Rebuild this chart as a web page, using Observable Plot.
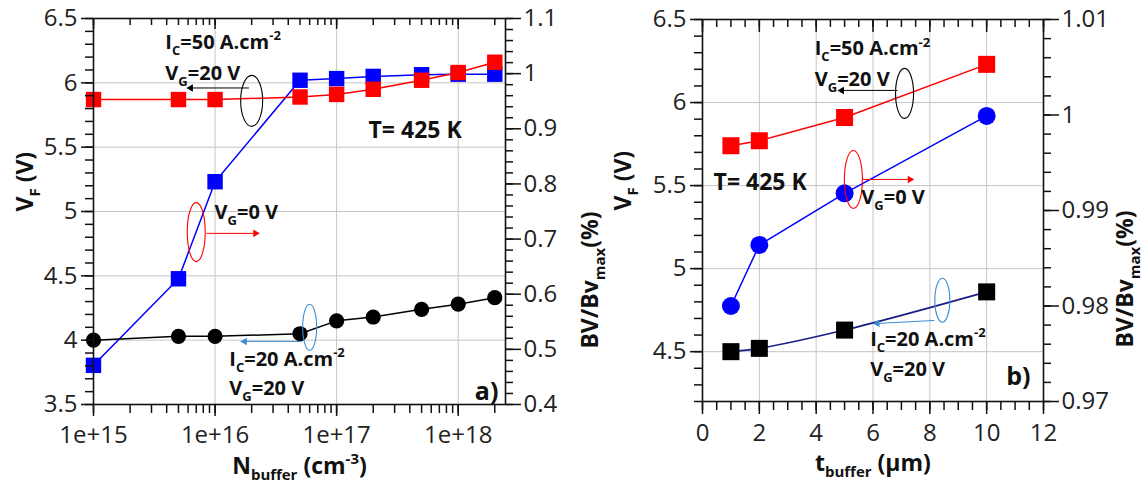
<!DOCTYPE html>
<html>
<head>
<meta charset="utf-8">
<script src="https://cdn.jsdelivr.net/npm/d3@7"></script>
<script src="https://cdn.jsdelivr.net/npm/@observablehq/plot@0.6"></script>
<style>
  body { margin: 0; background: #fff; }
  #wrap { display: flex; width: 1148px; height: 486px; overflow: hidden; }
  #wrap svg { display: block; }
</style>
</head>
<body>
<div id="wrap"></div>
<script>
// ---- Panel a: forward voltage / breakdown ratio vs buffer doping ----
const nBuffer   = [1e15, 5e15, 1e16, 5e16, 1e17, 2e17, 5e17, 1e18, 2e18];
const vfIc50A   = [5.87, 5.87, 5.87, 5.89, 5.91, 5.95, 6.02, 6.08, 6.16];
const vfIc20A   = [4.00, 4.03, 4.03, 4.05, 4.15, 4.18, 4.24, 4.28, 4.33];
const bvRatioA  = [0.471, 0.628, 0.804, 0.988, 0.991, 0.995, 0.998, 0.999, 0.999];

// ---- Panel b: forward voltage / breakdown ratio vs buffer thickness ----
const tBuffer   = [1, 2, 5, 10];
const vfIc50B   = [5.74, 5.77, 5.91, 6.23];
const vfIc20B   = [4.50, 4.52, 4.63, 4.86];
const bvRatioB  = [0.980, 0.9864, 0.9918, 0.9999];

// ---- tick values and labels ----
const nTicks        = [1e15, 1e16, 1e17, 1e18];
const nTickLabels   = ["1e+15", "1e+16", "1e+17", "1e+18"];
const vfTicksA      = [3.5, 4, 4.5, 5, 5.5, 6, 6.5];
const vfTickLabelsA = ["3.5", "4", "4.5", "5", "5.5", "6", "6.5"];
const bvTicksA      = [0.4, 0.5, 0.6, 0.7, 0.8, 0.9, 1, 1.1];
const bvTickLabelsA = ["0.4", "0.5", "0.6", "0.7", "0.8", "0.9", "1", "1.1"];
const tTicks        = [0, 2, 4, 6, 8, 10, 12];
const tTickLabels   = ["0", "2", "4", "6", "8", "10", "12"];
const vfTicksB      = [4.5, 5, 5.5, 6, 6.5];
const vfTickLabelsB = ["4.5", "5", "5.5", "6", "6.5"];
const bvTicksB      = [0.97, 0.98, 0.99, 1, 1.01];
const bvTickLabelsB = ["0.97", "0.98", "0.99", "1", "1.01"];

const FONT = '"Open Sans", "Noto Sans", sans-serif';
const RED = "#ff0000", BLUE = "#0000ff", LBLUE = "#3a8ed4", NAVY = "#1c1c86";
const GRID = "#c6c6c6", AXIS = "#111", TXT = "#222";
const NOTE = 20, TITLE = 23;

// The right-hand axis (BV/BVmax) shares the plot area with the left one (VF)
const toVfA = v => 3.5 + (v - 0.4) * 3 / 0.7;
const toVfB = v => 4.2 + (v - 0.97) * 2.3 / 0.04;

const rowsA = nBuffer.map((n, i) => ({n, ic50: vfIc50A[i], ic20: vfIc20A[i], bv: bvRatioA[i]}));
const rowsB = tBuffer.map((t, i) => ({t, ic50: vfIc50B[i], ic20: vfIc20B[i], bv: bvRatioB[i]}));

const lookup = (ticks, labels) => d => labels[d3.minIndex(ticks, v => Math.abs(v - d))];
const blank = () => "";

// Ellipse outline used to group a pair of curves
const ellipse = (rx, ry) => ({
  draw(ctx) {
    const k = 0.5523;
    ctx.moveTo(rx, 0);
    ctx.bezierCurveTo(rx, k * ry, k * rx, ry, 0, ry);
    ctx.bezierCurveTo(-k * rx, ry, -rx, k * ry, -rx, 0);
    ctx.bezierCurveTo(-rx, -k * ry, -k * rx, -ry, 0, -ry);
    ctx.bezierCurveTo(k * rx, -ry, rx, -k * ry, rx, 0);
    ctx.closePath();
  }
});

function callout(c) {
  return [
    Plot.dot([c], {x: "cx", y: "cy", symbol: ellipse(c.rx, c.ry), r: 1, stroke: c.color, strokeWidth: 1.1, fill: "none"}),
    Plot.link([c], {x1: "x1", y1: "y1", x2: "x2", y2: "y2", stroke: c.color, strokeWidth: 1}),
    Plot.dot([c], {x: "x2", y: "y2", symbol: "triangle", rotate: c.rot, r: 2.8, fill: c.color, stroke: "none"})
  ];
}

const note = (x, y, text, size, anchor = "start") =>
  Plot.text([{x, y, text}], {x: "x", y: "y", text: "text", fontSize: size, fontWeight: "bold", textAnchor: anchor, fill: "#111"});

const axisStyle = {label: null, stroke: AXIS, strokeWidth: 1.5, fill: TXT, fontSize: 24};

// ---------------- Panel a ----------------
const logMinor = d3.range(15, 19).flatMap(e => d3.range(1, 10).map(m => m * 10 ** e)).filter(v => v <= 2.45e18);
const plotA = Plot.plot({
  width: 615, height: 486,
  marginLeft: 93, marginRight: 110, marginTop: 18, marginBottom: 82,
  x: {type: "log", domain: [1e15, 2.45e18], axis: null},
  y: {domain: [3.5, 6.5], axis: null},
  style: {fontFamily: FONT, fontSize: "24px", background: "#fff", overflow: "visible"},
  marks: [
    Plot.gridX(nTicks.slice(1), {stroke: GRID, strokeOpacity: 1}),
    Plot.gridY(vfTicksA.slice(1, -1), {stroke: GRID, strokeOpacity: 1}),

    Plot.line(rowsA, {x: "n", y: d => toVfA(d.bv), stroke: BLUE, strokeWidth: 1.5}),
    Plot.dot(rowsA, {x: "n", y: d => toVfA(d.bv), symbol: "square", r: 8.7, fill: BLUE}),
    Plot.line(rowsA, {x: "n", y: "ic50", stroke: RED, strokeWidth: 1.5}),
    Plot.dot(rowsA, {x: "n", y: "ic50", symbol: "square", r: 8.7, fill: RED}),
    Plot.line(rowsA, {x: "n", y: "ic20", stroke: "#000", strokeWidth: 1.5}),
    Plot.dot(rowsA, {x: "n", y: "ic20", r: 7.6, fill: "#000"}),

    callout({cx: 2.0e16, cy: 5.86, rx: 11, ry: 25.5, color: "#000", x1: 1.9e16, y1: 5.96, x2: 6.3e15, y2: 5.96, rot: -90}),
    callout({cx: 7.0e15, cy: 4.84, rx: 9, ry: 29.5, color: RED, x1: 8.5e15, y1: 4.83, x2: 2.15e16, y2: 4.83, rot: 90}),
    callout({cx: 6.0e16, cy: 4.10, rx: 7, ry: 23, color: LBLUE, x1: 5.2e16, y1: 3.99, x2: 1.75e16, y2: 3.99, rot: -90}),
    note(3.9e15, 6.315, "I_{C}=50 A.cm^{-2}", NOTE),
    note(3.9e15, 6.075, "V_{G}=20 V", NOTE),
    note(1.83e17, 5.63, "T= 425 K", 23),
    note(9.9e15, 4.99, "V_{G}=0 V", NOTE),
    note(1.31e16, 3.85, "I_{C}=20 A.cm^{-2}", NOTE),
    note(1.31e16, 3.62, "V_{G}=20 V", NOTE),
    note(2.14e18, 3.60, "a)", 25, "end"),

    Plot.frame({stroke: AXIS, strokeWidth: 1.6}),
    Plot.axisY(d3.range(35, 66).map(v => v / 10), {anchor: "left", tickSize: 8, tickFormat: blank, ...axisStyle}),
    Plot.axisY(vfTicksA, {anchor: "left", tickSize: 12, tickPadding: 4, tickFormat: lookup(vfTicksA, vfTickLabelsA), ...axisStyle}),
    Plot.axisY(d3.range(20, 56).map(v => toVfA(v / 50)), {anchor: "right", tickSize: 7, tickFormat: blank, ...axisStyle}),
    Plot.axisY(bvTicksA.map(toVfA), {anchor: "right", tickSize: 15, tickPadding: 3, tickFormat: lookup(bvTicksA.map(toVfA), bvTickLabelsA), ...axisStyle}),
    Plot.axisX(logMinor, {anchor: "bottom", tickSize: 9, tickFormat: blank, ...axisStyle}),
    Plot.axisX(nTicks, {anchor: "bottom", tickSize: 12, tickPadding: 9, tickFormat: lookup(nTicks, nTickLabels), ...axisStyle}),
    Plot.axisX(logMinor, {anchor: "top", tickSize: 6, dy: 6, tickFormat: blank, ...axisStyle}),
    Plot.axisX(nTicks, {anchor: "top", tickSize: 10, dy: 10, tickFormat: blank, ...axisStyle}),

    Plot.text(["V_{F} (V)"], {frameAnchor: "left", dx: -68, rotate: -90, fontSize: TITLE, fontWeight: "bold", fill: "#111"}),
    Plot.text(["BV/Bv_{max}(%)"], {frameAnchor: "right", dx: 85, rotate: -90, fontSize: TITLE, fontWeight: "bold", fill: "#111"}),
    Plot.text(["N_{buffer} (cm^{-3})"], {frameAnchor: "bottom", dy: 69, fontSize: TITLE, fontWeight: "bold", fill: "#111"})
  ]
});

// ---------------- Panel b ----------------
const plotB = Plot.plot({
  width: 533, height: 486,
  marginLeft: 87, marginRight: 105, marginTop: 19, marginBottom: 85,
  x: {domain: [0, 12], axis: null},
  y: {domain: [4.2, 6.5], axis: null},
  style: {fontFamily: FONT, fontSize: "24px", background: "#fff", overflow: "visible"},
  marks: [
    Plot.gridX(tTicks.slice(1, -1), {stroke: GRID, strokeOpacity: 1}),
    Plot.gridY(vfTicksB.slice(0, -1), {stroke: GRID, strokeOpacity: 1}),

    Plot.line(rowsB, {x: "t", y: "ic50", stroke: RED, strokeWidth: 1.5}),
    Plot.dot(rowsB, {x: "t", y: "ic50", symbol: "square", r: 9.6, fill: RED}),
    Plot.line(rowsB, {x: "t", y: d => toVfB(d.bv), stroke: BLUE, strokeWidth: 1.5}),
    Plot.dot(rowsB, {x: "t", y: d => toVfB(d.bv), r: 9, fill: BLUE}),
    Plot.line(rowsB, {x: "t", y: "ic20", stroke: NAVY, strokeWidth: 1.6, curve: "catmull-rom"}),
    Plot.dot(rowsB, {x: "t", y: "ic20", symbol: "square", r: 9.6, fill: "#000"}),

    callout({cx: 7.11, cy: 6.055, rx: 9, ry: 25, color: "#000", x1: 6.86, y1: 6.073, x2: 4.9, y2: 6.073, rot: -90}),
    callout({cx: 5.31, cy: 5.537, rx: 9, ry: 29, color: RED, x1: 5.63, y1: 5.537, x2: 7.3, y2: 5.537, rot: 90}),
    callout({cx: 8.44, cy: 4.81, rx: 7.5, ry: 22, color: LBLUE, x1: 8.16, y1: 4.688, x2: 6.15, y2: 4.67, rot: -93}),
    note(3.95, 6.324, "I_{C}=50 A.cm^{-2}", NOTE),
    note(3.95, 6.138, "V_{G}=20 V", NOTE),
    note(0.39, 5.519, "T= 425 K", 23),
    note(5.59, 5.428, "V_{G}=0 V", NOTE),
    note(5.9, 4.575, "I_{C}=20 A.cm^{-2}", NOTE),
    note(5.9, 4.392, "V_{G}=20 V", NOTE),
    note(11.54, 4.345, "b)", 25, "end"),

    Plot.frame({stroke: AXIS, strokeWidth: 1.6}),
    Plot.axisY(d3.range(42, 66).map(v => v / 10), {anchor: "left", tickSize: 8, tickFormat: blank, ...axisStyle}),
    Plot.axisY(vfTicksB, {anchor: "left", tickSize: 12, tickPadding: 4, tickFormat: lookup(vfTicksB, vfTickLabelsB), ...axisStyle}),
    Plot.axisY(d3.range(485, 506).map(v => toVfB(v / 500)), {anchor: "right", tickSize: 7, tickFormat: blank, ...axisStyle}),
    Plot.axisY(bvTicksB.map(toVfB), {anchor: "right", tickSize: 15, tickPadding: 3, tickFormat: lookup(bvTicksB.map(toVfB), bvTickLabelsB), ...axisStyle}),
    Plot.axisX(d3.range(0, 25).map(v => v / 2), {anchor: "bottom", tickSize: 9, tickFormat: blank, ...axisStyle}),
    Plot.axisX(tTicks, {anchor: "bottom", tickSize: 13, tickPadding: 9, tickFormat: lookup(tTicks, tTickLabels), ...axisStyle}),
    Plot.axisX(d3.range(0, 25).map(v => v / 2), {anchor: "top", tickSize: 7, dy: 7, tickFormat: blank, ...axisStyle}),
    Plot.axisX(tTicks, {anchor: "top", tickSize: 12, dy: 12, tickFormat: blank, ...axisStyle}),

    Plot.text(["V_{F} (V)"], {frameAnchor: "left", dx: -79, rotate: -90, fontSize: TITLE, fontWeight: "bold", fill: "#111"}),
    Plot.text(["BV/Bv_{max}(%)"], {frameAnchor: "right", dx: 82, rotate: -90, fontSize: TITLE, fontWeight: "bold", fill: "#111"}),
    Plot.text(["t_{buffer} (µm)"], {frameAnchor: "bottom", dy: 69, fontSize: TITLE, fontWeight: "bold", fill: "#111"})
  ]
});

const wrap = document.getElementById("wrap");
wrap.append(plotA, plotB);

// Turn _{..} and ^{..} markup into subscript / superscript tspans
function richText(svg) {
  d3.select(svg).selectAll("text").each(function () {
    const s = this.textContent;
    if (!/[_^]\{/.test(s)) return;
    const fs = parseFloat(getComputedStyle(this).fontSize) || 18;
    const parts = [];
    const re = /([_^])\{([^}]*)\}/g;
    let last = 0, m;
    while ((m = re.exec(s))) {
      if (m.index > last) parts.push({t: s.slice(last, m.index), k: ""});
      parts.push({t: m[2], k: m[1]});
      last = re.lastIndex;
    }
    if (last < s.length) parts.push({t: s.slice(last), k: ""});
    this.textContent = "";
    let shift = 0;
    for (const p of parts) {
      const ts = document.createElementNS("http://www.w3.org/2000/svg", "tspan");
      const target = p.k === "_" ? fs * 0.3 : p.k === "^" ? -fs * 0.42 : 0;
      ts.setAttribute("dy", target - shift);
      shift = target;
      if (p.k) ts.setAttribute("font-size", fs * 0.65);
      ts.textContent = p.t;
      this.appendChild(ts);
    }
  });
}
richText(plotA);
richText(plotB);
</script>
</body>
</html>
